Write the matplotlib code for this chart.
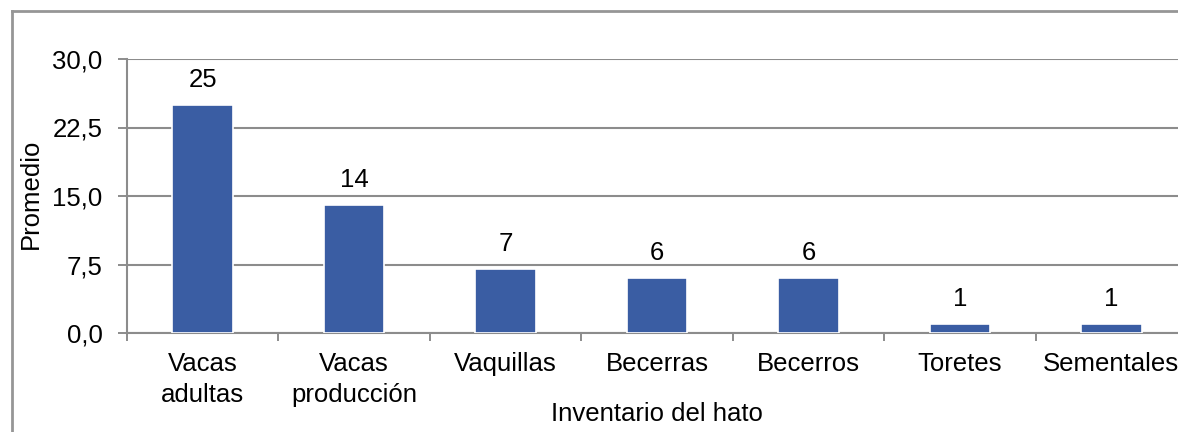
import matplotlib.pyplot as plt
from matplotlib.lines import Line2D
import numpy as np

categorias = ["Vacas\nadultas", "Vacas\nproducción", "Vaquillas", "Becerras",
              "Becerros", "Toretes", "Sementales"]
promedio = [25, 14, 7, 6, 6, 1, 1]
yticks = [0.0, 7.5, 15.0, 22.5, 30.0]
ytick_labels = ["0,0", "7,5", "15,0", "22,5", "30,0"]

plt.rcParams['font.family'] = ['Liberation Sans', 'DejaVu Sans']
fs = 18.5
grid_c = '#8c8c8c'

fig = plt.figure(figsize=(11.78, 4.32), dpi=100)
ax = fig.add_axes([127 / 1178, 1 - 333 / 432, 1060 / 1178, 274 / 432])

x = np.arange(len(categorias))
ax.bar(x, promedio, width=0.40, color='#3a5da3', edgecolor='white', linewidth=1.2, zorder=3)

for xi, v in zip(x, promedio):
    ax.annotate(str(v), (xi, v), xytext=(0, 13), textcoords='offset points',
                ha='center', va='baseline', fontsize=fs, color='black')

ax.set_xlim(-0.5, len(categorias) - 0.5)
ax.set_ylim(0, 30)
ax.set_yticks(yticks)
ax.set_yticklabels(ytick_labels, fontsize=fs)
ax.set_xticks(x)
ax.set_xticklabels(categorias, fontsize=fs, linespacing=1.32)
ax.set_xticks(np.arange(-0.5, len(categorias)), minor=True)

ax.tick_params(axis='x', which='major', length=0, pad=14)
ax.tick_params(axis='x', which='minor', length=6, width=1.4, color=grid_c)
ax.tick_params(axis='y', length=6.5, width=1.4, color=grid_c, pad=11)

ax.yaxis.grid(True, color=grid_c, linewidth=1.5, zorder=0)
ax.set_axisbelow(True)
for s in ['top', 'right']:
    ax.spines[s].set_visible(False)
for s in ['left', 'bottom']:
    ax.spines[s].set_color(grid_c)
    ax.spines[s].set_linewidth(1.5)

fig.text(31 / 1178, 1 - 194 / 432, "Promedio", rotation=90, ha='center', va='center', fontsize=fs)
fig.text(657 / 1178, 1 - 421 / 432, "Inventario del hato", ha='center', va='baseline', fontsize=fs)

# marco exterior del grafico
fig.add_artist(Line2D([11.5 / 1178, 11.5 / 1178], [0, 1 - 11 / 432], transform=fig.transFigure,
                      color='#969696', linewidth=2))
fig.add_artist(Line2D([11.5 / 1178, 1], [1 - 11 / 432, 1 - 11 / 432], transform=fig.transFigure,
                      color='#969696', linewidth=2))

plt.savefig("out.png", dpi=100)
